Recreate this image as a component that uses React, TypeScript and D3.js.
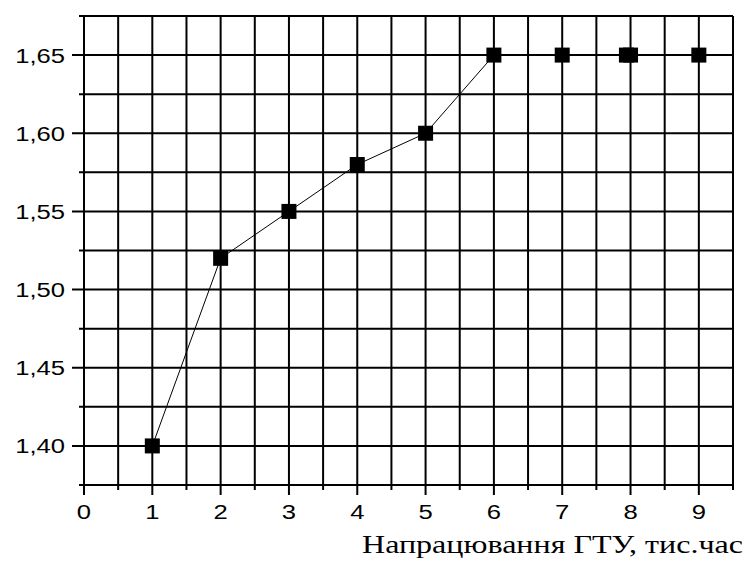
import React, { useEffect, useRef } from 'react'
import * as d3 from 'd3'

// joined points (1..6 thousand hours)
const lineHours = [1, 2, 3, 4, 5, 6]
const lineValues = [1.40, 1.52, 1.55, 1.58, 1.60, 1.65]
// loose points, no line between them
const looseHours = [7, 7.94, 8, 9]
const looseValues = [1.65, 1.65, 1.65, 1.65]

const xTicks = [0, 1, 2, 3, 4, 5, 6, 7, 8, 9]
const yTicks = [1.40, 1.45, 1.50, 1.55, 1.60, 1.65]
const xTitle = 'Напрацювання ГТУ, тис.час'

export default function App() {
  const ref = useRef<SVGSVGElement>(null)
  const W = 746, H = 563

  useEffect(() => {
    document.body.style.margin = '0'
    const svg = d3.select(ref.current)
    svg.selectAll('*').remove()

    const x = d3.scaleLinear().domain([0, 9.5]).range([84, 733])
    const y = d3.scaleLinear().domain([1.375, 1.675]).range([485, 16])
    const fmt = (v: number) => d3.format('.2f')(v).replace('.', ',')
    const isMajorY = (v: number) => Math.abs(Math.round(v * 20) - v * 20) < 1e-6
    const isMajorX = (v: number) => Math.abs(Math.round(v) - v) < 1e-6

    const g = svg.append('g')

    // horizontal grid, every 0.025
    const hLines = d3.range(0, 13).map(i => 1.375 + i * 0.025)
    g.selectAll('.hgrid').data(hLines).enter().append('line')
      .attr('x1', d => x(0) - (isMajorY(d) ? 12 : 5))
      .attr('x2', x(9.5))
      .attr('y1', d => y(d)).attr('y2', d => y(d))
      .attr('stroke', '#000').attr('stroke-width', 2)

    // vertical grid, every 0.5
    const vLines = d3.range(0, 20).map(i => i * 0.5)
    g.selectAll('.vgrid').data(vLines).enter().append('line')
      .attr('x1', d => x(d)).attr('x2', d => x(d))
      .attr('y1', y(1.675))
      .attr('y2', d => y(1.375) + (isMajorX(d) ? 10 : 5))
      .attr('stroke', '#000').attr('stroke-width', 2)

    // y labels (wide pixel-ish sans)
    g.selectAll('.ylab').data(yTicks).enter().append('text')
      .attr('transform', d => `translate(65,${y(d) + 7.5}) scale(1.22,1)`)
      .attr('text-anchor', 'end')
      .style('font-family', '"Liberation Sans", Arial, sans-serif')
      .style('font-size', '21px')
      .attr('fill', '#000')
      .text(d => fmt(d))

    // x labels
    g.selectAll('.xlab').data(xTicks).enter().append('text')
      .attr('transform', d => `translate(${x(d)},519) scale(1.22,1)`)
      .attr('text-anchor', 'middle')
      .style('font-family', '"Liberation Sans", Arial, sans-serif')
      .style('font-size', '21px')
      .attr('fill', '#000')
      .text(d => String(d))

    // data line
    const line = d3.line<number>()
      .x((d, i) => x(lineHours[i]))
      .y(d => y(d))
    g.append('path')
      .datum(lineValues)
      .attr('d', line)
      .attr('fill', 'none')
      .attr('stroke', '#000')
      .attr('stroke-width', 1)

    // markers
    const pts = lineHours.map((h, i) => [h, lineValues[i]])
      .concat(looseHours.map((h, i) => [h, looseValues[i]]))
    const s = 15
    g.selectAll('.pt').data(pts).enter().append('rect')
      .attr('x', d => x(d[0]) - s / 2)
      .attr('y', d => y(d[1]) - s / 2)
      .attr('width', s).attr('height', s)
      .attr('fill', '#000')

    // axis title
    g.append('text')
      .attr('x', 743).attr('y', 553)
      .attr('text-anchor', 'end')
      .attr('textLength', 381)
      .attr('lengthAdjust', 'spacingAndGlyphs')
      .style('font-family', '"Liberation Serif", "Times New Roman", serif')
      .style('font-size', '26px')
      .attr('fill', '#000')
      .text(xTitle)
  }, [])

  return (
    <svg ref={ref} width={W} height={H} style={{ display: 'block', background: '#fff' }} />
  )
}
